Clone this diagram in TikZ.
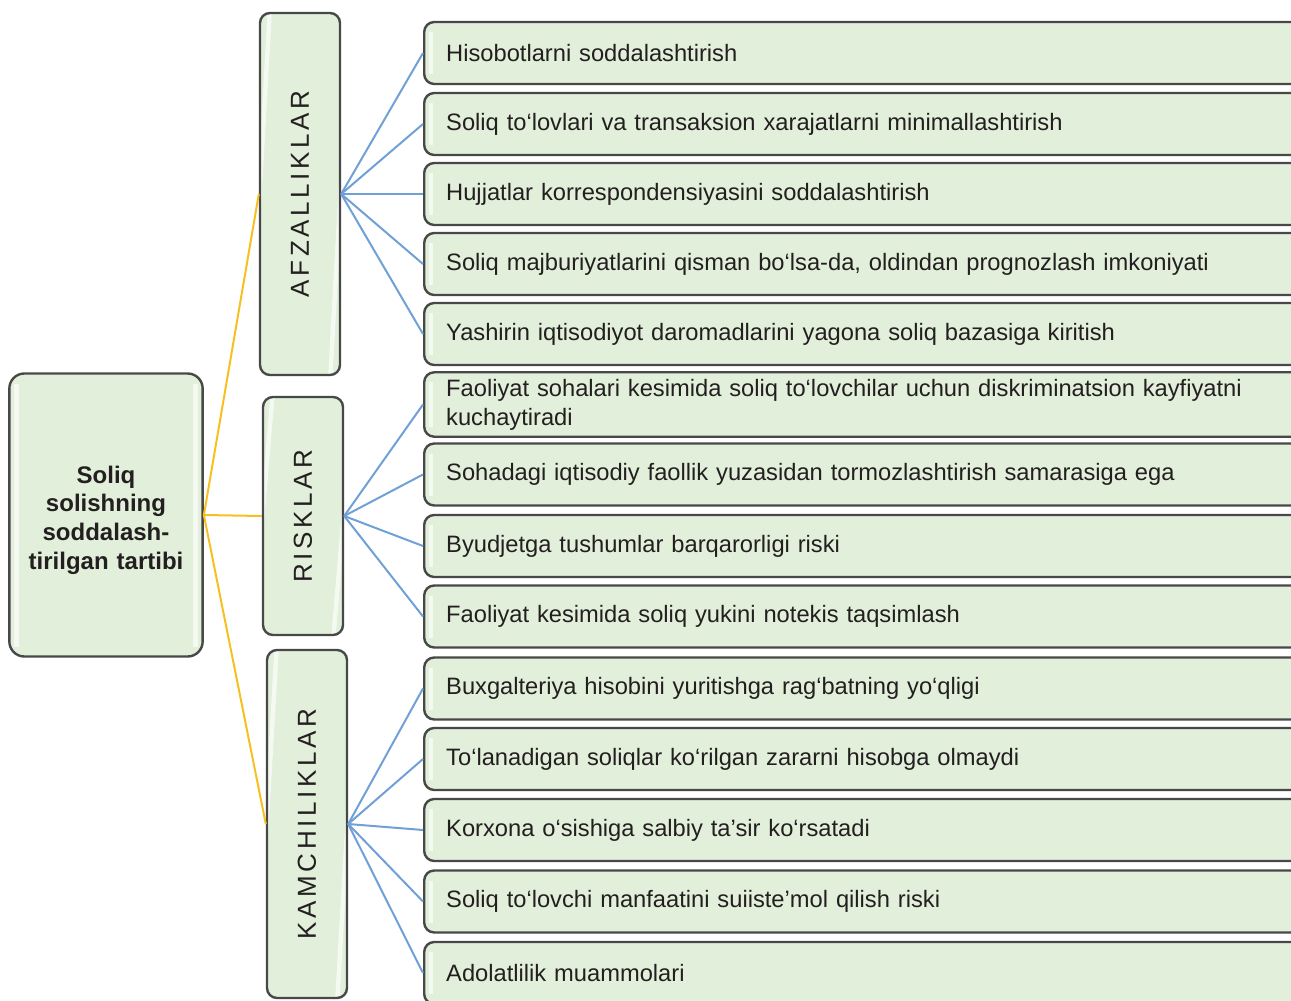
\documentclass[tikz,border=0pt]{standalone}
\usepackage{fontspec}
\setmainfont{Liberation Sans}
\newfontfamily\catfont[LetterSpace=14]{Liberation Sans}
\usepackage{xcolor}
\usepackage{tikz}
\usetikzlibrary{
    positioning,
    arrows.meta
}
\definecolor{boxfill}{RGB}{226,239,218}
\definecolor{boxline}{RGB}{72,72,72}
\definecolor{linkyellow}{RGB}{247,192,32}
\definecolor{linkblue}{RGB}{112,160,214}
\definecolor{textdark}{RGB}{35,31,32}
\tikzset{
    greenbox/.style={
        rectangle, draw=boxline, line width=1.2pt, fill=boxfill,
        rounded corners=5pt, text=textdark,
        path picture={
            \draw[white, line width=2.2pt, opacity=0.65]
                ([xshift=3.5pt,yshift=-5pt]path picture bounding box.north west) --
                ([xshift=3.5pt,yshift=5pt]path picture bounding box.south west);
            \draw[white, line width=2.2pt, opacity=0.65]
                ([xshift=-3.5pt,yshift=-5pt]path picture bounding box.north east) --
                ([xshift=-3.5pt,yshift=5pt]path picture bounding box.south east);
        }
    },
    branch/.style={
        draw=linkyellow, line width=1pt
    },
    leaf/.style={
        draw=linkblue, line width=1pt
    }
}

\begin{document}
\begin{tikzpicture}[
    x=0.5pt, y=-0.5pt,
    rootbox/.style={greenbox, rounded corners=7.5pt, minimum width=95.5pt, minimum height=141.5pt,
        text width=90pt, align=center, font=\bfseries\fontsize{12}{14.3}\selectfont},
    catbox/.style={greenbox, rotate=90, minimum height=40pt,
        font=\catfont\fontsize{13}{15}\selectfont},
    itembox/.style={greenbox, anchor=west, minimum height=31pt, text width=425pt,
        inner xsep=11pt, align=left, font=\fontsize{11.85}{14.5}\selectfont}
]
    \useasboundingbox (0,0) rectangle (1291,1001);
    \clip (0,0) rectangle (1291,1001);

    % --- ROOT ---
    \node[rootbox] (root) at (106,515) {\rule{0pt}{13.8pt}Soliq\\ solishning\\ soddalash-\\ tirilgan tartibi};

    % --- CATEGORIES (rotated: north faces left, south faces right) ---
    \node[catbox, minimum width=181pt] (afz) at (300,194) {AFZALLIKLAR};
    \node[catbox, minimum width=119pt] (risk) at (303,516) {RISKLAR};
    \node[catbox, minimum width=174pt] (kam) at (307,824) {KAMCHILIKLAR};

    % --- AFZALLIKLAR ---
    \node[itembox] (a1) at (423,53) {Hisobotlarni soddalashtirish};
    \node[itembox] (a2) at (423,124) {Soliq to‘lovlari va transaksion xarajatlarni minimallashtirish};
    \node[itembox] (a3) at (423,194) {Hujjatlar korrespondensiyasini soddalashtirish};
    \node[itembox] (a4) at (423,264) {Soliq majburiyatlarini qisman bo‘lsa-da, oldindan prognozlash imkoniyati};
    \node[itembox] (a5) at (423,334) {Yashirin iqtisodiyot daromadlarini yagona soliq bazasiga kiritish};

    % --- RISKLAR ---
    \node[itembox] (r1) at (423,404.5) {Faoliyat sohalari kesimida soliq to‘lovchilar uchun diskriminatsion kayfiyatni\\kuchaytiradi};
    \node[itembox] (r2) at (423,474.5) {Sohadagi iqtisodiy faollik yuzasidan tormozlashtirish samarasiga ega};
    \node[itembox] (r3) at (423,546) {Byudjetga tushumlar barqarorligi riski};
    \node[itembox] (r4) at (423,616.5) {Faoliyat kesimida soliq yukini notekis taqsimlash};

    % --- KAMCHILIKLAR ---
    \node[itembox] (k1) at (423,688.5) {Buxgalteriya hisobini yuritishga rag‘batning yo‘qligi};
    \node[itembox] (k2) at (423,759) {To‘lanadigan soliqlar ko‘rilgan zararni hisobga olmaydi};
    \node[itembox] (k3) at (423,830) {Korxona o‘sishiga salbiy ta’sir ko‘rsatadi};
    \node[itembox] (k4) at (423,901.5) {Soliq to‘lovchi manfaatini suiiste’mol qilish riski};
    \node[itembox] (k5) at (423,973) {Adolatlilik muammolari};

    % --- CONNECTORS ---
    \draw[branch] (root.east) -- (afz.north);
    \draw[branch] (root.east) -- (risk.north);
    \draw[branch] (root.east) -- (kam.north);

    \draw[leaf] (afz.south) -- (a1.west);
    \draw[leaf] (afz.south) -- (a2.west);
    \draw[leaf] (afz.south) -- (a3.west);
    \draw[leaf] (afz.south) -- (a4.west);
    \draw[leaf] (afz.south) -- (a5.west);

    \draw[leaf] (risk.south) -- (r1.west);
    \draw[leaf] (risk.south) -- (r2.west);
    \draw[leaf] (risk.south) -- (r3.west);
    \draw[leaf] (risk.south) -- (r4.west);

    \draw[leaf] (kam.south) -- (k1.west);
    \draw[leaf] (kam.south) -- (k2.west);
    \draw[leaf] (kam.south) -- (k3.west);
    \draw[leaf] (kam.south) -- (k4.west);
    \draw[leaf] (kam.south) -- (k5.west);

\end{tikzpicture}
\end{document}
